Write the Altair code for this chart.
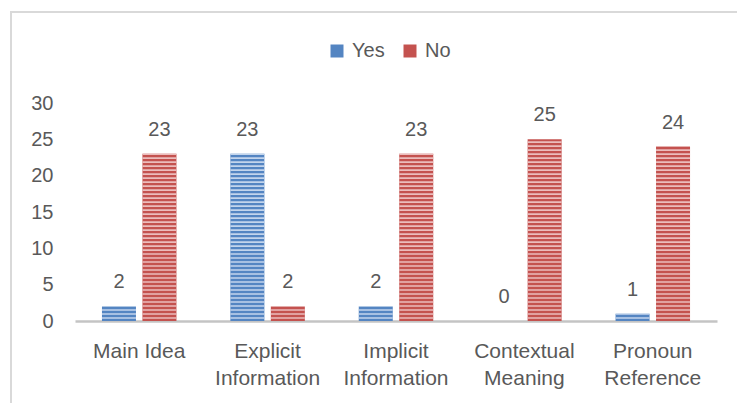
import altair as alt
import pandas as pd

# Chart data
categories = ["Main Idea", "Explicit Information", "Implicit Information",
              "Contextual Meaning", "Pronoun Reference"]
series_names = ["Yes", "No"]
yes_counts = [2, 23, 2, 0, 1]
no_counts = [23, 2, 23, 25, 24]
y_ticks = [0, 5, 10, 15, 20, 25, 30]

rows = []
for cat, y, n in zip(categories, yes_counts, no_counts):
    rows.append({"category": cat, "series": "Yes", "value": y})
    rows.append({"category": cat, "series": "No", "value": n})
df = pd.DataFrame(rows)

FONT = "Liberation Sans"
TEXT = "#595959"
BLUE, RED = "#5485C2", "#C4524F"
BLUE_LIGHT, RED_LIGHT = "#C3D5EC", "#EBBDBC"

x_enc = alt.X(
    "category:N", sort=categories, title=None,
    scale=alt.Scale(paddingInner=0.42, paddingOuter=0.21),
    axis=alt.Axis(
        labelAngle=0, labelFont=FONT, labelFontSize=21, labelColor=TEXT,
        labelPadding=19, labelLineHeight=27, ticks=False, labelOverlap=False,
        domainColor="#C4C4C4", domainWidth=2.5,
        labelExpr="datum.label == 'Main Idea' ? datum.label : split(datum.label, ' ')",
    ),
)
xoff_enc = alt.XOffset(
    "series:N", sort=series_names,
    scale=alt.Scale(paddingInner=0.16, paddingOuter=0),
)
y_scale = alt.Scale(domain=[0, 30], nice=False)
y_axis = alt.Axis(
    values=y_ticks, grid=False, domain=False, ticks=False, labelPadding=22,
    labelFont=FONT, labelFontSize=20, labelColor=TEXT,
)

# Solid bars carry the legend
bars = alt.Chart(df).mark_bar().encode(
    x=x_enc,
    xOffset=xoff_enc,
    y=alt.Y("value:Q", title=None, scale=y_scale, axis=y_axis),
    color=alt.Color(
        "series:N", sort=series_names,
        scale=alt.Scale(domain=series_names, range=[BLUE, RED]),
        legend=alt.Legend(
            title=None, orient="none", legendX=252, legendY=-62,
            direction="horizontal", symbolType="square", symbolSize=169,
            symbolStrokeWidth=0, labelFont=FONT, labelFontSize=20,
            labelColor=TEXT, labelOffset=5, columnPadding=15,
        ),
    ),
)

# Horizontal light stripes laid over each bar
stripes = (
    alt.Chart(df)
    .transform_calculate(s="sequence(0.3, datum.value, 0.55)")
    .transform_flatten(["s"])
    .transform_calculate(s2="min(datum.s + 0.22, datum.value)")
    .mark_bar()
    .encode(
        x=x_enc,
        xOffset=xoff_enc,
        y=alt.Y("s:Q", title=None, scale=y_scale, axis=y_axis),
        y2="s2:Q",
        fill=alt.condition("datum.series == 'Yes'",
                           alt.value(BLUE_LIGHT), alt.value(RED_LIGHT)),
    )
)

# Value labels above the bars
labels = alt.Chart(df).mark_text(
    dy=-18, baseline="alphabetic", font=FONT, fontSize=20, color=TEXT
).encode(
    x=x_enc,
    xOffset=xoff_enc,
    y=alt.Y("value:Q", title=None, scale=y_scale, axis=y_axis),
    text="value:Q",
)

# Light frame around the chart area
frame = alt.Chart(pd.DataFrame({"frame": [0]})).mark_rect(
    fillOpacity=0, stroke="#D9D9D9", strokeWidth=2
).encode(
    x=alt.value(-64), x2=alt.value(690),
    y=alt.value(-91), y2=alt.value(320),
)

chart = (
    alt.layer(frame, bars, stripes, labels)
    .properties(
        width=642, height=218,
        padding={"left": 75, "top": 103, "right": 20, "bottom": 82},
        autosize=alt.AutoSizeParams(type="none"),
        background="white",
    )
    .configure_view(strokeWidth=0)
)

chart.save("out.html", embed_options={"renderer": "svg", "actions": False})
